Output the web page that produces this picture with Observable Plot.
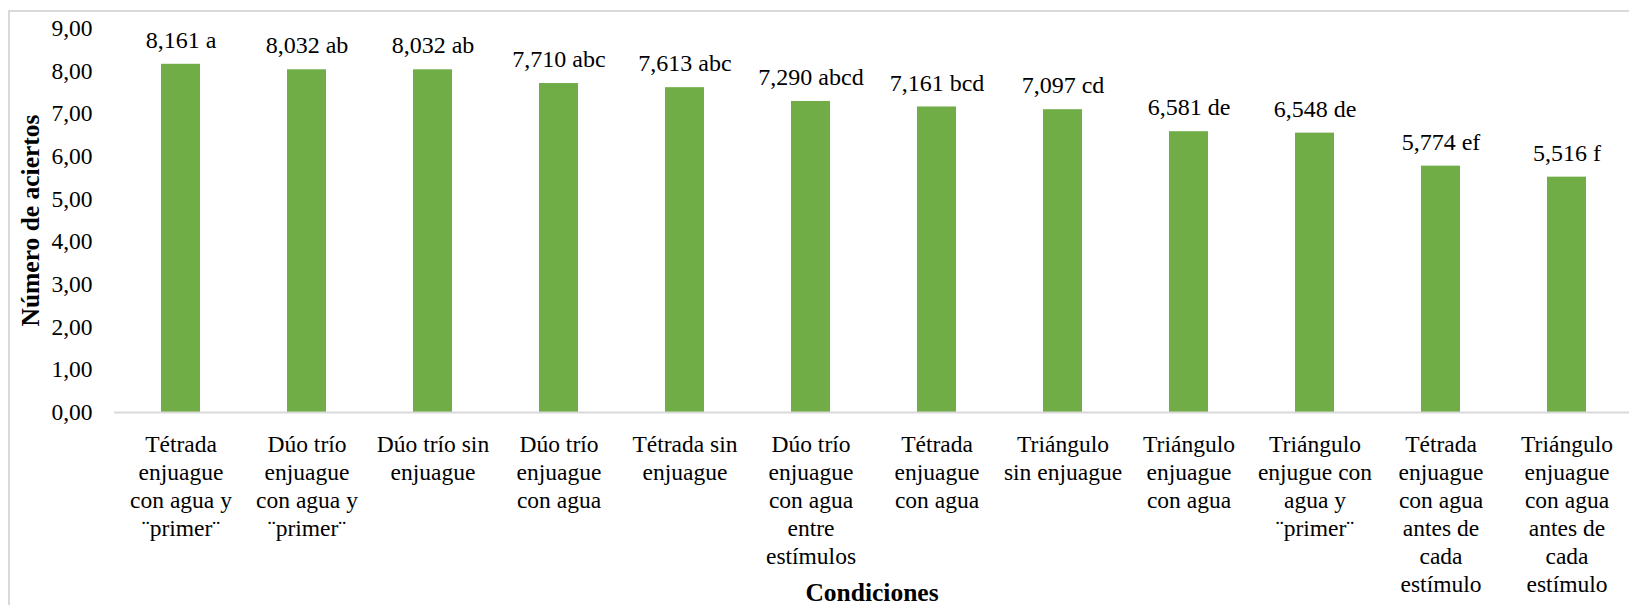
<!DOCTYPE html>
<html>
<head>
<meta charset="utf-8">
<script src="https://cdn.jsdelivr.net/npm/d3@7"></script>
<script src="https://cdn.jsdelivr.net/npm/@observablehq/plot@0.6"></script>
<style>
  html, body { margin: 0; padding: 0; background: #fff; overflow: hidden; }
  #wrap { position: relative; width: 1629px; height: 605px; }
  #border { position: absolute; left: 8px; top: 10px; width: 1640px; height: 620px; border: 2px solid #d9d9d9; box-sizing: border-box; pointer-events: none; }
  #chart svg, #chart svg text, #chart svg tspan { font-family: 'Liberation Serif', 'Times New Roman', serif !important; }
</style>
</head>
<body>
<div id="wrap"><div id="border"></div><div id="chart"></div></div>
<script>
const categories = [
  "Tétrada\nenjuague\ncon agua y\n¨primer¨",
  "Dúo trío\nenjuague\ncon agua y\n¨primer¨",
  "Dúo trío sin\nenjuague",
  "Dúo trío\nenjuague\ncon agua",
  "Tétrada sin\nenjuague",
  "Dúo trío\nenjuague\ncon agua\nentre\nestímulos",
  "Tétrada\nenjuague\ncon agua",
  "Triángulo\nsin enjuague",
  "Triángulo\nenjuague\ncon agua",
  "Triángulo\nenjugue con\nagua y\n¨primer¨",
  "Tétrada\nenjuague\ncon agua\nantes de\ncada\nestímulo",
  "Triángulo\nenjuague\ncon agua\nantes de\ncada\nestímulo"
];
const values = [8.161, 8.032, 8.032, 7.710, 7.613, 7.290, 7.161, 7.097, 6.581, 6.548, 5.774, 5.516];
const letters = ["a", "ab", "ab", "abc", "abc", "abcd", "bcd", "cd", "de", "de", "ef", "f"];
const yTicks = [0, 1, 2, 3, 4, 5, 6, 7, 8, 9];

const data = categories.map((c, i) => ({cat: c, value: values[i], letter: letters[i]}));
const comma = (v, d) => v.toFixed(d).replace(".", ",");

const SERIF = "'Liberation Serif', 'Times New Roman', serif";
const FS = 23.5;
const chart = Plot.plot({
  width: 1629,
  height: 605,
  marginLeft: 114,
  marginRight: 0,
  marginTop: 28,
  marginBottom: 193,
  style: {fontSize: FS + "px", color: "#000", background: "transparent", overflow: "visible"},
  x: {domain: categories, range: [112, 1635], paddingInner: 0.69, paddingOuter: 0.345, align: 0.5},
  y: {domain: [0, 9]},
  marks: [
    Plot.barY(data, {x: "cat", y: "value", fill: "#70ad47"}),
    Plot.ruleY([0], {stroke: "#d9d9d9", strokeWidth: 2}),
    Plot.axisY({ticks: yTicks, tickSize: 0, tickPadding: 22, tickFormat: d => comma(d, 2), label: null, fontSize: FS, fill: "#000"}),
    Plot.axisX({tickSize: 0, tickPadding: 20, lineAnchor: "top", lineHeight: 1.19, label: null, fontSize: FS, fill: "#000", textAnchor: "middle"}),
    Plot.text(data, {x: "cat", y: "value", text: d => comma(d.value, 3) + " " + d.letter, dy: -24, lineAnchor: "middle", fontSize: 24, fill: "#000"}),
    Plot.text(["Número de aciertos"], {frameAnchor: "left", textAnchor: "middle", rotate: -90, dx: -84, fontWeight: "bold", fontSize: 25.5, fill: "#000"}),
    Plot.text(["Condiciones"], {frameAnchor: "bottom", dy: 180, lineAnchor: "middle", fontWeight: "bold", fontSize: 25.5, fill: "#000"})
  ]
});
chart.setAttribute("font-family", SERIF);
chart.querySelectorAll("g, text").forEach(el => el.setAttribute("font-family", SERIF));
document.getElementById("chart").appendChild(chart);
</script>
</body>
</html>
